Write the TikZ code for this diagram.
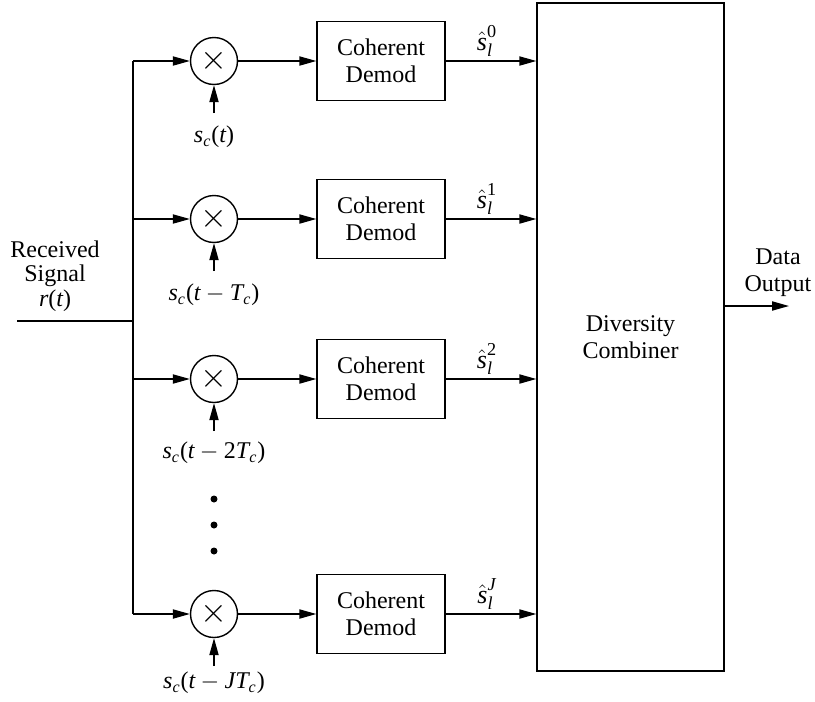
\documentclass[tikz,border=0pt]{standalone}
\usepackage{amsmath}
\usepackage{fontspec}
\setmainfont{Liberation Serif}
\usetikzlibrary{arrows.meta}
\newcommand\vi[1]{\textit{#1}}
\newcommand\lp{\text{(}}
\newcommand\rp{\text{)}}
\begin{document}
\begin{tikzpicture}[x=0.5pt,y=-0.5pt,
  font=\fontsize{12}{13.4}\selectfont,
  line width=0.7pt,
  arr/.style={-{Triangle[length=8.5pt,width=4.6pt]}},
  mix/.style={circle,draw,minimum size=23.5pt,inner sep=0pt,font=\fontsize{17}{17}\selectfont},
  demod/.style={draw,minimum width=64pt,minimum height=39.5pt,align=center,inner sep=0pt},
  lbl/.style={inner sep=0pt}]
\useasboundingbox (0,0) rectangle (815,702);

% combiner
\node[draw,minimum width=93.5pt,minimum height=334pt,align=center] (comb) at (630.5,337) {Diversity\\Combiner};

% input
\node[align=center,font=\fontsize{12}{12.2}\selectfont] (rx) at (55,276) {Received\\Signal\\$\vi{r}\lp\vi{t}\rp$};
\coordinate (in) at (17,321);
\coordinate (br) at (133,321);
\draw (in) -- (br);

% rows
\foreach \i/\y/\ly/\sup/\lab in {
  1/61/137/{\text{0}}/{$\vi{s}_{\vi{c}}\lp\vi{t}\rp$},
  2/219/295/{\text{1}}/{$\vi{s}_{\vi{c}}\lp\vi{t}-\vi{T}_{\vi{c}}\rp$},
  3/379/453/{\text{2}}/{$\vi{s}_{\vi{c}}\lp\vi{t}-\text{2}\vi{T}_{\vi{c}}\rp$},
  4/614/683/{\vi{J}}/{$\vi{s}_{\vi{c}}\lp\vi{t}-\vi{JT}_{\vi{c}}\rp$}}{
  \coordinate (b\i) at (133,\y);
  \node[mix] (m\i) at (214,\y) {$\times$};
  \node[demod] (d\i) at (381,\y) {Coherent\\Demod};
  \coordinate (c\i) at (214,\y+52);
  \node[lbl] (l\i) at (214,\ly) {\lab};
  \node[lbl,font=\fontsize{13}{14}\selectfont] (h\i) at (487,\y-20) {$\hat{\vi{s}}_{\vi{l}}^{\sup}$};
  \draw[arr] (b\i) -- (m\i);
  \draw[arr] (m\i) -- (d\i);
  \draw[arr] (d\i.east) -- (d\i.east -| comb.west);
  \draw[arr] (c\i) -- (m\i.south);
}
\draw (b1) -- (b4);

% dots
\foreach \yy in {499,525,551} \fill (214,\yy) circle (1.75pt);

% output
\node[align=center] (out) at (778,273) {Data\\Output};
\coordinate (outend) at (789,306);
\draw[arr] (comb.east |- outend) -- (outend);
\end{tikzpicture}
\end{document}
